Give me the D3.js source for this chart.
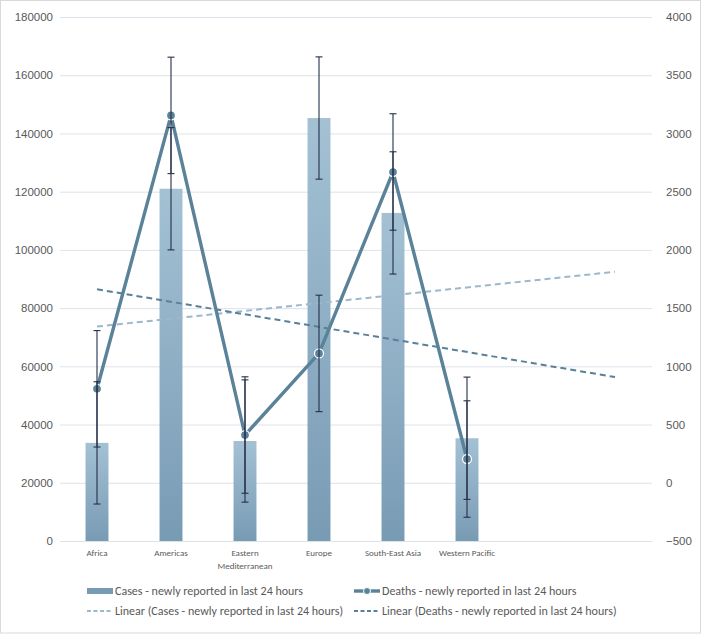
<!DOCTYPE html>
<html>
<head>
<meta charset="utf-8">
<script src="https://cdn.jsdelivr.net/npm/d3@7"></script>
<style>
    body { margin: 0; background: #fff; }
    svg { font-family: Carlito, Lato, "Open Sans", sans-serif; }
</style>
</head>
<body>
<div id="chart"></div>
<script>
// data
const regions = ["Africa", "Americas", "Eastern Mediterranean", "Europe", "South-East Asia", "Western Pacific"];
const slots = 8; // two empty categories on the right, where the trend lines run out
const cases = [33700, 121000, 34350, 145300, 112700, 35300];
const deaths = [807, 3155, 410, 1111, 2669, 204];
const casesError = 21000;
const deathsError = 500;
const leftTicks = [0, 20000, 40000, 60000, 80000, 100000, 120000, 140000, 160000, 180000];
const rightTicks = [-500, 0, 500, 1000, 1500, 2000, 2500, 3000, 3500, 4000];

const W = 701, H = 634;
const margin = { top: 17, right: 49, bottom: 93, left: 60 };
const width = W - margin.left - margin.right,
    height = H - margin.top - margin.bottom;

const colors = {
    grid: "#dde2ea",
    text: "#595959",
    barTop: "#a4c1d4",
    barBottom: "#789bb4",
    line: "#5a8299",
    err: "#262f4a",
    trendCases: "#9bb8cc",
    trendDeaths: "#59809a"
};

const svg = d3.select("#chart").append("svg")
    .attr("width", W).attr("height", H);

// chart border
svg.append("rect")
    .attr("x", 0.5).attr("y", 0.5)
    .attr("width", W - 1).attr("height", H - 1.5)
    .attr("fill", "none").attr("stroke", "#d9d9d9");

const defs = svg.append("defs");
const grad = defs.append("linearGradient")
    .attr("id", "barGrad")
    .attr("x1", 0).attr("y1", 0).attr("x2", 0).attr("y2", 1);
grad.append("stop").attr("offset", "0%").attr("stop-color", colors.barTop);
grad.append("stop").attr("offset", "100%").attr("stop-color", colors.barBottom);

const g = svg.append("g")
    .attr("transform", `translate(${margin.left}, ${margin.top})`);

const x = d3.scaleBand()
    .domain(d3.range(slots))
    .range([0, width])
    .padding(0);
const cx = i => x(i) + x.bandwidth() / 2;
const barW = x.bandwidth() * 0.31;

const y = d3.scaleLinear().domain([0, 180000]).range([height, 0]);
const y2 = d3.scaleLinear().domain([-500, 4000]).range([height, 0]);

// gridlines + left axis
g.append("g")
    .attr("class", "y axis")
    .call(d3.axisLeft(y).tickValues(leftTicks).tickFormat(d3.format("d")).tickSize(-width).tickPadding(7))
    .call(a => a.select(".domain").remove())
    .call(a => a.selectAll("line").attr("stroke", colors.grid))
    .call(a => a.selectAll("text")
        .attr("fill", colors.text).style("font-size", "11.5px"));

g.append("g")
    .attr("class", "y2 axis")
    .attr("transform", `translate(${width}, 0)`)
    .call(d3.axisRight(y2).tickValues(rightTicks).tickFormat(d3.format("d")).tickSize(0).tickPadding(14))
    .call(a => a.select(".domain").remove())
    .call(a => a.selectAll("text")
        .attr("fill", colors.text).style("font-size", "11.5px"));

// x axis
const xAxis = g.append("g")
    .attr("class", "x axis")
    .attr("transform", `translate(0, ${height})`)
    .call(d3.axisBottom(x).tickSize(0).tickFormat(() => ""));
xAxis.select(".domain").attr("stroke", colors.grid);
xAxis.selectAll(".tick text").remove();

const xLabels = g.append("g").attr("class", "x-labels");
regions.forEach((r, i) => {
    const lines = r === "Eastern Mediterranean" ? ["Eastern", "Mediterranean"] : [r];
    const t = xLabels.append("text")
        .attr("x", cx(i))
        .attr("y", height + 15)
        .attr("text-anchor", "middle")
        .attr("fill", colors.text)
        .style("font-size", "9px");
    lines.forEach((l, k) => {
        t.append("tspan").attr("x", cx(i)).attr("dy", k ? 13 : 0).text(l);
    });
});

// bars
g.selectAll("rect.bar")
    .data(cases)
    .join("rect")
    .attr("class", "bar")
    .attr("x", (d, i) => cx(i) - barW / 2)
    .attr("width", barW)
    .attr("y", d => y(d))
    .attr("height", d => height - y(d))
    .attr("fill", "url(#barGrad)");

// linear trend lines (least squares over the 6 regions, drawn to the last slot)
function fit(vals) {
    const xs = vals.map((d, i) => i + 1);
    const mx = d3.mean(xs), my = d3.mean(vals);
    const slope = d3.sum(xs, (xi, i) => (xi - mx) * (vals[i] - my)) / d3.sum(xs, xi => (xi - mx) ** 2);
    return xi => my + slope * (xi - mx);
}
const fitCases = fit(cases), fitDeaths = fit(deaths);

function trend(f, scale, color) {
    g.append("line")
        .attr("x1", cx(0)).attr("y1", scale(f(1)))
        .attr("x2", cx(slots - 1)).attr("y2", scale(f(slots)))
        .attr("stroke", color)
        .attr("stroke-width", 2)
        .attr("stroke-dasharray", "6,4");
}
trend(fitCases, y, colors.trendCases);
trend(fitDeaths, y2, colors.trendDeaths);

// deaths line
const line = d3.line().x((d, i) => cx(i)).y(d => y2(d));
g.append("path")
    .datum(deaths)
    .attr("d", line)
    .attr("fill", "none")
    .attr("stroke", colors.line)
    .attr("stroke-width", 3.4)
    .attr("stroke-linejoin", "miter");

g.selectAll("circle.pt")
    .data(deaths)
    .join("circle")
    .attr("class", "pt")
    .attr("cx", (d, i) => cx(i))
    .attr("cy", d => y2(d))
    .attr("r", 4.5)
    .attr("fill", colors.line)
    .attr("stroke", "#fff")
    .attr("stroke-width", 1.3);

// error bars
function errorBars(vals, err, scale) {
    const eg = g.append("g");
    vals.forEach((d, i) => {
        const top = scale(d + err), bot = scale(d - err), c = cx(i);
        eg.append("line").attr("x1", c).attr("x2", c).attr("y1", top).attr("y2", bot);
        eg.append("line").attr("x1", c - 3.5).attr("x2", c + 3.5).attr("y1", top).attr("y2", top);
        eg.append("line").attr("x1", c - 3.5).attr("x2", c + 3.5).attr("y1", bot).attr("y2", bot);
    });
    eg.selectAll("line").attr("stroke", colors.err).attr("stroke-width", 1.1);
}
errorBars(cases, casesError, y);
errorBars(deaths, deathsError, y2);

// legend
const legendItems = [
    { label: "Cases - newly reported in last 24 hours", type: "bar", col: 0, row: 0 },
    { label: "Deaths - newly reported in last 24 hours", type: "line", col: 1, row: 0 },
    { label: "Linear (Cases - newly reported in last 24 hours)", type: "dashCases", col: 0, row: 1 },
    { label: "Linear (Deaths - newly reported in last 24 hours)", type: "dashDeaths", col: 1, row: 1 }
];
const legend = svg.append("g").attr("class", "legend");
const colX = [87, 354], rowY = [591, 611];
legendItems.forEach(it => {
    const lx = colX[it.col], ly = rowY[it.row];
    const item = legend.append("g").attr("transform", `translate(${lx}, ${ly})`);
    if (it.type === "bar") {
        item.append("rect").attr("x", 0).attr("y", -3).attr("width", 26).attr("height", 6)
            .attr("fill", colors.barBottom);
    } else if (it.type === "line") {
        item.append("line").attr("x1", 0).attr("x2", 26).attr("y1", 0).attr("y2", 0)
            .attr("stroke", colors.line).attr("stroke-width", 3.4);
        item.append("circle").attr("cx", 13).attr("cy", 0).attr("r", 3.5)
            .attr("fill", colors.line).attr("stroke", "#fff").attr("stroke-width", 1);
    } else {
        item.append("line").attr("x1", 0).attr("x2", 26).attr("y1", 0).attr("y2", 0)
            .attr("stroke", it.type === "dashCases" ? colors.trendCases : colors.trendDeaths)
            .attr("stroke-width", 2).attr("stroke-dasharray", "4,2.5");
    }
    item.append("text")
        .attr("x", 28).attr("y", 0).attr("dy", "0.35em")
        .attr("fill", colors.text)
        .style("font-size", "12px")
        .text(it.label);
});
</script>
</body>
</html>
